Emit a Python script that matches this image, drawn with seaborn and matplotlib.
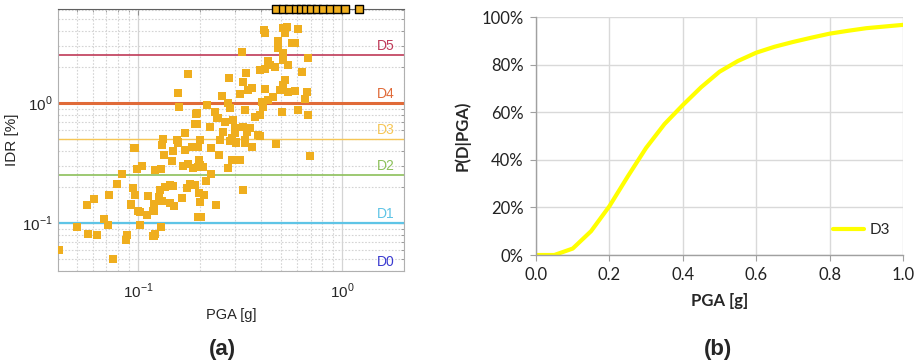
import matplotlib
matplotlib.use("Agg")
import numpy as np
import pandas as pd
import matplotlib.pyplot as plt
import seaborn as sns
from matplotlib.ticker import LogLocator, NullFormatter, PercentFormatter, FixedLocator, FuncFormatter

# ---------------- data: panel (a) ----------------
pga = [0.041, 0.075, 0.050, 0.057, 0.063, 0.056, 0.061, 0.072, 0.068, 0.071,
       0.088, 0.087, 0.092, 0.100, 0.102, 0.119, 0.121, 0.129, 0.096, 0.131,
       0.148, 0.157, 0.184, 0.134, 0.147, 0.083, 0.079, 0.099, 0.105, 0.121,
       0.130, 0.094, 0.097, 0.092, 0.102, 0.112, 0.119, 0.120, 0.126, 0.128,
       0.136, 0.144, 0.149, 0.131, 0.144, 0.150, 0.164, 0.174, 0.180, 0.190,
       0.166, 0.176, 0.186, 0.197, 0.111, 0.197,
       0.697, 0.327, 0.241, 0.204, 0.201, 0.199, 0.211, 0.228, 0.216, 0.276,
       0.289, 0.250, 0.228, 0.201, 0.209, 0.199, 0.197, 0.283, 0.302, 0.335,
       0.362, 0.475, 0.396,
       0.415, 0.420, 0.514, 0.538, 0.526, 0.609, 0.486, 0.589, 0.569, 0.486,
       0.324, 0.681, 0.514, 0.514, 0.434, 0.444, 0.396, 0.420, 0.470, 0.544,
       0.637, 0.338, 0.280, 0.327, 0.346, 0.362, 0.420, 0.526, 0.514, 0.497,
       0.544, 0.589, 0.674, 0.258, 0.316, 0.659, 0.276, 0.283, 0.405, 0.434,
       0.459, 0.335, 0.410, 0.508, 0.609, 0.681, 0.195, 0.195, 0.226, 0.267,
       0.292, 0.299, 0.262, 0.327, 0.354, 0.375, 0.396, 0.388, 0.342, 0.289,
       0.335,
       0.176, 0.157, 0.159, 0.193, 0.190, 0.170, 0.133, 0.155,
       0.201, 0.239, 0.218, 0.252, 0.170, 0.316, 0.245, 0.300]
idr = [0.060, 0.050, 0.093, 0.081, 0.080, 0.141, 0.158, 0.171, 0.108, 0.096,
       0.080, 0.072, 0.141, 0.126, 0.096, 0.078, 0.082, 0.093, 0.420, 0.447,
       0.400, 0.470, 0.430, 0.370, 0.330, 0.256, 0.212, 0.282, 0.300, 0.276,
       0.282, 0.196, 0.171, 0.144, 0.123, 0.168, 0.126, 0.144, 0.165, 0.188,
       0.200, 0.207, 0.204, 0.152, 0.147, 0.138, 0.161, 0.196, 0.211, 0.207,
       0.300, 0.310, 0.287, 0.292, 0.117, 0.112,
       0.362, 0.188, 0.141, 0.112, 0.150, 0.178, 0.171, 0.256, 0.224, 0.287,
       0.335, 0.369, 0.420, 0.304, 0.292, 0.335, 0.430, 0.480, 0.470, 0.470,
       0.430, 0.460, 0.530,
       4.06, 3.83, 4.22, 4.30, 3.83, 4.14, 3.28, 3.16, 3.16, 2.87,
       2.66, 2.37, 2.61, 2.28, 2.24, 2.07, 1.88, 1.92, 2.00, 2.07,
       1.81, 1.78, 1.61, 1.50, 1.28, 1.33, 1.31, 1.55, 1.41, 1.28,
       1.23, 1.26, 1.23, 1.14, 1.19, 1.08, 1.00, 0.91, 1.02, 1.06,
       1.12, 0.875, 0.926, 0.84, 0.875, 0.79, 0.825, 0.668, 0.63, 0.694,
       0.72, 0.62, 0.573, 0.63, 0.62, 0.765, 0.794, 0.541, 0.573, 0.51,
       0.49,
       1.74, 1.21, 0.926, 0.81, 0.668, 0.563, 0.50, 0.49,
       0.49, 0.84, 0.96, 0.49, 0.406, 0.335, 0.75, 0.56]
collapse_pga = [0.475, 0.514, 0.55, 0.595, 0.63, 0.666, 0.705, 0.754,
                0.807, 0.874, 0.945, 1.03, 1.21]
thresholds = [0.04, 0.1, 0.25, 0.5, 1.0, 2.5]
state_labels = ["D0", "D1", "D2", "D3", "D4", "D5"]
state_colors = ["#3a3ad0", "#5ec4e6", "#8cc05a", "#f6c655", "#e06a38", "#bf3a58"]
line_widths = [0, 1.6, 1.2, 1.0, 2.2, 1.2]

# ---------------- data: panel (b) ----------------
curve_pga = [0.0, 0.05, 0.10, 0.15, 0.20, 0.25, 0.30, 0.35, 0.40, 0.45, 0.50,
             0.55, 0.60, 0.65, 0.70, 0.75, 0.80, 0.85, 0.90, 0.95, 1.00]
curve_p = [0.0, 0.0, 0.027, 0.10, 0.205, 0.33, 0.45, 0.55, 0.63, 0.705, 0.77,
           0.815, 0.85, 0.875, 0.895, 0.913, 0.93, 0.942, 0.953, 0.96, 0.967]

sns.set_style("white")
plt.rcParams["font.family"] = ["Liberation Sans", "DejaVu Sans"]
plt.rcParams["mathtext.fontset"] = "custom"
plt.rcParams["mathtext.rm"] = "Liberation Sans"

W, H = 923, 364
fig = plt.figure(figsize=(W / 100, H / 100), dpi=100)
ax1 = fig.add_axes([58 / W, 1 - 271 / H, 346 / W, 262 / H])
ax2 = fig.add_axes([536 / W, 1 - 255 / H, 367 / W, 238 / H])

# ---------------- panel (a) ----------------
ax1.set_xscale("log")
ax1.set_yscale("log")
ax1.set_xlim(0.0405, 2.01)
ax1.set_ylim(0.040, 6.07)
ax1.grid(True, which="major", color="#d4d4d4", lw=0.9, ls="-")
ax1.grid(True, which="minor", color="#d4d4d4", lw=0.8, ls=(0, (1.5, 1.5)))
ax1.set_axisbelow(True)

for thr, lab, col, lw in zip(thresholds, state_labels, state_colors, line_widths):
    if lw > 0:
        ax1.axhline(thr, color=col, lw=lw, zorder=1)
    ax1.text(1.64, thr * 1.19, lab, color=col, fontsize=10, ha="center", va="center")

df_a = pd.DataFrame({"PGA": pga, "IDR": idr})
sns.scatterplot(data=df_a, x="PGA", y="IDR", ax=ax1, marker="s", s=34,
                color="#efae1e", edgecolor="none", linewidth=0, zorder=3)

df_c = pd.DataFrame({"PGA": collapse_pga, "IDR": [ax1.get_ylim()[1]] * len(collapse_pga)})
sns.scatterplot(data=df_c, x="PGA", y="IDR", ax=ax1, marker="s", s=34,
                color="#efae1e", edgecolor="black", linewidth=1.0, zorder=6,
                clip_on=False)

ax1.xaxis.set_major_locator(FixedLocator([0.1, 1.0]))
ax1.xaxis.set_major_formatter(FuncFormatter(lambda v, p: r"$10^{%d}$" % round(np.log10(v))))
ax1.xaxis.set_minor_locator(LogLocator(base=10, subs=np.arange(2, 10)))
ax1.xaxis.set_minor_formatter(NullFormatter())
ax1.yaxis.set_major_locator(FixedLocator([0.1, 1.0]))
ax1.yaxis.set_major_formatter(FuncFormatter(lambda v, p: r"$10^{%d}$" % round(np.log10(v))))
ax1.yaxis.set_minor_locator(LogLocator(base=10, subs=np.arange(2, 10)))
ax1.yaxis.set_minor_formatter(NullFormatter())
ax1.tick_params(which="both", direction="in", top=True, right=True, color="#909090")
ax1.tick_params(which="major", length=4, labelsize=11)
ax1.tick_params(axis="x", which="major", pad=8)
ax1.tick_params(axis="y", which="major", pad=4)
ax1.tick_params(which="minor", length=2.5)
for s in ["left", "bottom", "right"]:
    ax1.spines[s].set_color("#b0b0b0")
ax1.spines["top"].set_color("#606060")
ax1.set_xlabel("PGA [g]", fontsize=10.5, labelpad=5)
ax1.set_ylabel("IDR [%]", fontsize=11, labelpad=2)

# ---------------- panel (b) ----------------
df_b = pd.DataFrame({"PGA": curve_pga, "P": curve_p})
sns.lineplot(data=df_b, x="PGA", y="P", ax=ax2, color="#ffff00", lw=3.0, label="D3")
ax2.set_xlim(0, 1.0)
ax2.set_ylim(0, 1.0)
ax2.xaxis.set_major_locator(FixedLocator([0, 0.2, 0.4, 0.6, 0.8, 1.0]))
ax2.xaxis.set_major_formatter(FuncFormatter(lambda v, p: "%.1f" % v))
ax2.yaxis.set_major_locator(FixedLocator([0, 0.2, 0.4, 0.6, 0.8, 1.0]))
ax2.yaxis.set_major_formatter(PercentFormatter(1.0, decimals=0))
ax2.grid(True, color="#d9d9d9", lw=1.0)
ax2.set_axisbelow(True)
for s in ["top", "right"]:
    ax2.spines[s].set_visible(False)
for s in ["left", "bottom"]:
    ax2.spines[s].set_color("#a0a0a0")
    ax2.spines[s].set_linewidth(1.0)
ax2.tick_params(direction="out", length=4, color="#a0a0a0", labelsize=12, pad=5,
                left=True, bottom=True)
for t in ax2.get_xticklabels() + ax2.get_yticklabels():
    t.set_family(["Lato", "DejaVu Sans"])
    t.set_color("#222222")
ax2.set_xlabel("PGA [g]", fontsize=12, fontweight="bold", labelpad=7,
               family=["Lato", "DejaVu Sans"])
ax2.set_ylabel("P(D|PGA)", fontsize=12, fontweight="bold", labelpad=8,
               family=["Lato", "DejaVu Sans"])
leg = ax2.legend(loc="lower right", frameon=False, handlelength=2.0,
                 handletextpad=0.4, borderaxespad=0.3, bbox_to_anchor=(0.995, 0.03),
                 prop={"family": "Lato", "size": 11})

fig.text(222 / W, 1 - 349 / H, "(a)", fontsize=16, fontweight="bold", ha="center", va="center")
fig.text(718 / W, 1 - 349 / H, "(b)", fontsize=16, fontweight="bold", ha="center", va="center")

fig.savefig("out.png", dpi=100)
